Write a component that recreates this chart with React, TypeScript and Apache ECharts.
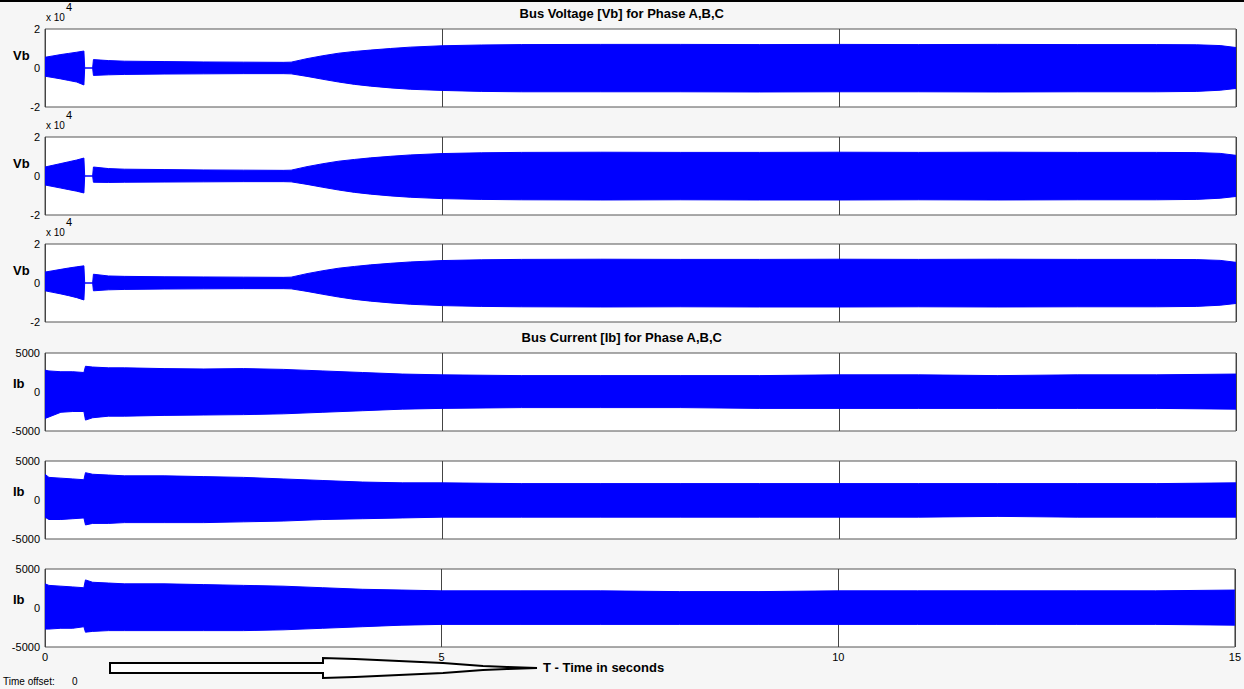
import React, { useEffect, useRef } from "react";
import * as echarts from "echarts";

// Time axis (seconds) for voltage envelopes
const vTime = [0, 0.1, 0.2, 0.3, 0.4, 0.49, 0.5, 0.6, 0.61, 0.8, 1, 1.5, 2, 2.5, 3, 3.1, 3.3, 3.5, 3.7, 3.9, 4.1, 4.35, 4.6, 5, 5.5, 6, 7, 8, 9, 10, 11, 12, 13, 14, 14.5, 14.8, 15];

// Bus voltage envelopes (V), phases A,B,C
const vaUpper = [5500, 6200, 6900, 7500, 8100, 8700, 0, 0, 4300, 3800, 3500, 3300, 3100, 3000, 2900, 3000, 4800, 6300, 7600, 8500, 9200, 10000, 10700, 11400, 11800, 12000, 12100, 12100, 12000, 12100, 12000, 12100, 12000, 12000, 11900, 11500, 10500];
const vaLower = [-4200, -4900, -5600, -6400, -7200, -8700, 0, 0, -3800, -3500, -3300, -3100, -3000, -2900, -2900, -3000, -4300, -5800, -7200, -8400, -9300, -10200, -10900, -11500, -12000, -12200, -12200, -12200, -12300, -12200, -12200, -12300, -12200, -12200, -12000, -11400, -10500];
const vbUpper = [4600, 5500, 6400, 7300, 8200, 9200, 0, 0, 4600, 3800, 3500, 3300, 3100, 3000, 2900, 3000, 4800, 6300, 7600, 8500, 9300, 10100, 10800, 11500, 11900, 12100, 12200, 12100, 12100, 12200, 12100, 12200, 12100, 12100, 12000, 11600, 10600];
const vbLower = [-4600, -5400, -6200, -7000, -7800, -8700, 0, 0, -3200, -3300, -3200, -3100, -3000, -2900, -2900, -3000, -4300, -5800, -7200, -8400, -9300, -10200, -10900, -11600, -12000, -12200, -12300, -12200, -12300, -12300, -12200, -12300, -12200, -12200, -12000, -11400, -10500];
const vcUpper = [5600, 6300, 7000, 7700, 8300, 8800, 0, 0, 4500, 3600, 3400, 3200, 3100, 3000, 2900, 3000, 4800, 6300, 7600, 8500, 9300, 10100, 10800, 11500, 11900, 12100, 12200, 12100, 12100, 12200, 12100, 12200, 12100, 12100, 12000, 11600, 10600];
const vcLower = [-4000, -4800, -5600, -6500, -7500, -8700, 0, 0, -4000, -3500, -3300, -3100, -3000, -2900, -2900, -3000, -4300, -5800, -7200, -8400, -9300, -10200, -10900, -11600, -12000, -12200, -12300, -12200, -12300, -12300, -12200, -12300, -12200, -12200, -12000, -11400, -10500];

// Time axis (seconds) for current envelopes
const iTime = [0, 0.05, 0.2, 0.35, 0.49, 0.51, 0.6, 0.8, 1, 1.5, 2, 2.5, 3, 3.5, 4, 4.5, 5, 6, 7, 8, 9, 10, 11, 12, 13, 14, 15];

// Bus current envelopes (A), phases A,B,C
const iaUpper = [2800, 2700, 2600, 2600, 2500, 3300, 3200, 3100, 3100, 3000, 2950, 3000, 2900, 2700, 2500, 2300, 2200, 2100, 2100, 2100, 2100, 2200, 2200, 2100, 2200, 2200, 2300];
const iaLower = [-3400, -3200, -2600, -2500, -2500, -3600, -3300, -3100, -3100, -3000, -2950, -2900, -2800, -2600, -2400, -2200, -2100, -2000, -2000, -2000, -2100, -2100, -2100, -2100, -2100, -2100, -2200];
const ibUpper = [3300, 2900, 2800, 2700, 2600, 3500, 3300, 3200, 3100, 3100, 3000, 2900, 2700, 2500, 2300, 2200, 2200, 2100, 2100, 2100, 2100, 2100, 2100, 2100, 2100, 2100, 2200];
const ibLower = [-2200, -2500, -2500, -2400, -2300, -3200, -3000, -3000, -2900, -2900, -2900, -2800, -2700, -2500, -2400, -2300, -2200, -2200, -2200, -2200, -2200, -2200, -2200, -2100, -2200, -2200, -2200];
const icUpper = [3100, 2900, 2800, 2700, 2600, 3600, 3300, 3200, 3100, 3100, 3000, 2900, 2800, 2600, 2400, 2300, 2200, 2200, 2200, 2100, 2100, 2200, 2200, 2200, 2200, 2200, 2300];
const icLower = [-2700, -2700, -2600, -2600, -2400, -3100, -3000, -2900, -2900, -2900, -2900, -2900, -2800, -2600, -2400, -2200, -2100, -2100, -2100, -2100, -2100, -2100, -2100, -2100, -2100, -2100, -2200];

const xTicks = [0, 5, 10, 15];
const voltageTitle = "Bus Voltage [Vb] for Phase A,B,C";
const currentTitle = "Bus Current [Ib] for Phase A,B,C";
const xLabel = "T - Time in seconds";

const panels = [
  { name: "Vb", t: vTime, up: vaUpper, lo: vaLower, lim: 20000, scale: 1e4 },
  { name: "Vb", t: vTime, up: vbUpper, lo: vbLower, lim: 20000, scale: 1e4 },
  { name: "Vb", t: vTime, up: vcUpper, lo: vcLower, lim: 20000, scale: 1e4 },
  { name: "Ib", t: iTime, up: iaUpper, lo: iaLower, lim: 5000, scale: 1 },
  { name: "Ib", t: iTime, up: ibUpper, lo: ibLower, lim: 5000, scale: 1 },
  { name: "Ib", t: iTime, up: icUpper, lo: icLower, lim: 5000, scale: 1 },
];

const tops = [29, 137, 244, 353, 461, 569];
const PH = 78;
const FONT = "Arial, 'Liberation Sans', sans-serif";
const BLUE = "#0000ff";

export default function App() {
  const ref = useRef<HTMLDivElement>(null);
  useEffect(() => {
    if (!ref.current) return;
    const chart = echarts.init(ref.current, null, { renderer: "svg" });
    const grids: any[] = [];
    const xAxes: any[] = [];
    const yAxes: any[] = [];
    const series: any[] = [];
    const graphics: any[] = [];
    panels.forEach((p, i) => {
      grids.push({
        left: 45, right: 8, top: tops[i], height: PH,
        show: true, backgroundColor: "#ffffff", borderColor: "#555555", borderWidth: 1,
      });
      xAxes.push({
        type: "value", gridIndex: i, min: 0, max: 15, interval: 5,
        axisLine: { show: false }, axisTick: { show: false },
        splitLine: { show: true, lineStyle: { color: "#444444", width: 1 } },
        axisLabel: {
          show: i === 5, color: "#000", fontSize: 11, fontFamily: FONT, margin: 4,
          formatter: (v: number) => (xTicks.includes(v) ? String(v) : ""),
        },
      });
      yAxes.push({
        type: "value", gridIndex: i, min: -p.lim, max: p.lim, interval: p.lim,
        axisLine: { show: false }, axisTick: { show: false }, splitLine: { show: false },
        axisLabel: {
          color: "#000", fontSize: 11, fontFamily: FONT, margin: 5,
          formatter: (v: number) => String(Math.round(v / p.scale)),
        },
      });
      [p.up, p.lo].forEach((arr) => {
        series.push({
          type: "line", xAxisIndex: i, yAxisIndex: i, showSymbol: false, silent: true,
          data: p.t.map((t, k) => [t, arr[k]]),
          lineStyle: { color: BLUE, width: 1 },
          areaStyle: { color: BLUE, opacity: 1 },
        });
      });
      graphics.push({
        type: "text", left: 13, top: tops[i] + (i < 3 ? 20 : 24),
        style: { text: p.name, fontSize: 13, fontWeight: "bold", fontFamily: FONT, fill: "#000" },
      });
      if (i < 3) {
        graphics.push({
          type: "text", left: 46, top: tops[i] - 17,
          style: { text: "x 10", fontSize: 10, fontFamily: FONT, fill: "#000" },
        });
        graphics.push({
          type: "text", left: 66, top: tops[i] - 28,
          style: { text: "4", fontSize: 11, fontFamily: FONT, fill: "#000" },
        });
      }
    });
    graphics.push(
      { type: "rect", shape: { x: 0, y: 0, width: 1244, height: 2 }, style: { fill: "#000" } },
      {
        type: "text", left: "center", top: 7,
        style: { text: voltageTitle, fontSize: 13, fontWeight: "bold", fontFamily: FONT, fill: "#000" },
      },
      {
        type: "text", left: "center", top: 331,
        style: { text: currentTitle, fontSize: 13, fontWeight: "bold", fontFamily: FONT, fill: "#000" },
      },
      {
        type: "polygon",
        shape: {
          points: [
            [110, 663], [323, 663], [323, 658], [355, 659], [443, 663], [483, 666], [507, 667],
            [537, 668], [507, 669], [483, 670], [443, 673], [355, 677], [323, 678], [323, 673], [110, 673],
          ],
        },
        style: { fill: "#ffffff", stroke: "#000", lineWidth: 2 },
      },
      {
        type: "text", left: 543, top: 661,
        style: { text: xLabel, fontSize: 13, fontWeight: "bold", fontFamily: FONT, fill: "#000" },
      },
      {
        type: "text", left: 3, top: 676,
        style: { text: "Time offset:", fontSize: 10, fontFamily: FONT, fill: "#000" },
      },
      {
        type: "text", left: 72, top: 676,
        style: { text: "0", fontSize: 10, fontFamily: FONT, fill: "#000" },
      }
    );
    chart.setOption({
      animation: false,
      backgroundColor: "#f6f6f6",
      grid: grids,
      xAxis: xAxes,
      yAxis: yAxes,
      series,
      graphic: graphics,
    });
    return () => chart.dispose();
  }, []);
  return (
    <div
      ref={ref}
      style={{ position: "fixed", left: 0, top: 0, width: 1244, height: 689 }}
    />
  );
}
